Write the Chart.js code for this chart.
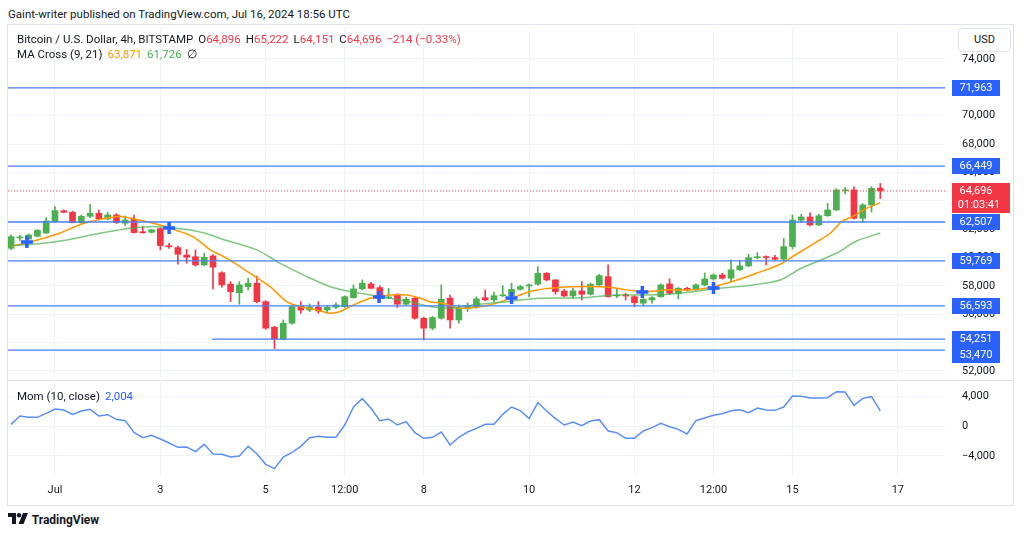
<!DOCTYPE html>
<html>
<head>
<meta charset="utf-8">
<script src="https://cdn.jsdelivr.net/npm/chart.js@4.4.1/dist/chart.umd.min.js"></script>
<style>
  body { margin: 0; background: #fff; font-family: Roboto, sans-serif; color: #131722; }
  #wrap { position: relative; width: 1024px; height: 536px; overflow: hidden; background: #fff; }
  .abs { position: absolute; white-space: nowrap; }
  #frame { position: absolute; left: 7px; top: 24px; width: 1007px; height: 482px; border: 1px solid #e0e3eb; box-sizing: border-box; }
  #sep { position: absolute; left: 8px; top: 380px; width: 1005px; height: 1px; background: #e0e3eb; }
  #mainChart { position: absolute; left: 0; top: 25px; }
  #momChart { position: absolute; left: 0; top: 381px; }
  .leg { font-size: 11.5px; line-height: 15px; color: #131722; }
  .leg span { margin-left: 5px; }
  .leg span i { font-style: normal; }
  .r { color: #f23645; }
  .o { color: #ff9800; }
  .g { color: #4caf50; }
  .b { color: #2962ff; }
  #usd { position: absolute; left: 958px; top: 28px; width: 53px; height: 24px; border: 1px solid #e0e3eb; border-radius: 4px; box-sizing: border-box; font-size: 11px; line-height: 22px; text-align: center; background: #fff; }
</style>
</head>
<body>
<div id="wrap">
  <div class="abs" style="left:8px;top:6px;font-size:11.5px;line-height:16px;color:#131722">Gaint-writer published on TradingView.com, Jul 16, 2024 18:56 UTC</div>
  <div id="frame"></div>
  <canvas id="mainChart" width="1024" height="355"></canvas>
  <div id="sep"></div>
  <canvas id="momChart" width="1024" height="124"></canvas>
  <div class="abs leg" style="left:17px;top:32px">Bitcoin / U.S. Dollar, 4h, BITSTAMP<span>O<i class="r">64,896</i></span><span>H<i class="r">65,222</i></span><span>L<i class="r">64,151</i></span><span>C<i class="r">64,696</i></span><span class="r">−214 (−0.33%)</span></div>
  <div class="abs leg" style="left:17px;top:47px">MA Cross (9, 21)<span class="o">63,871</span><span class="g">61,726</span><span>∅</span></div>
  <div class="abs leg" style="left:17px;top:389px">Mom (10, close)<span class="b">2,004</span></div>
  <div id="usd">USD</div>
  <div class="abs" style="left:8px;top:513px;font-size:12px;line-height:14px;font-weight:700;color:#131722">
    <svg width="21" height="12" viewBox="0 0 21 12" style="vertical-align:-1px"><path d="M0 0h8v11H4V4H0z" fill="#131722"/><circle cx="11" cy="2.2" r="2.2" fill="#131722"/><path d="M15 0h5l-4.5 11h-5z" fill="#131722"/></svg>
    TradingView</div>
</div>
<script>
// 4h candles, index 0 = Jun 30 04:00, index 99 = Jul 16 16:00
const opens = [60650, 61380, 61310, 61500, 61730, 62530, 63300, 63190, 62460, 62910,
  63120, 62720, 63000, 62420, 62700, 61800, 61780, 62040, 60800, 60700,
  60180, 60060, 59480, 60110, 58930, 58120, 57520, 57950, 58190, 56890,
  55090, 54240, 55370, 56590, 56300, 56500, 56300, 56500, 56540, 57170,
  57790, 58140, 57880, 57150, 57360, 56710, 57130, 55720, 55020, 55720,
  57130, 55600, 56420, 56540, 57170, 57010, 57300, 57310, 57760, 57990,
  58120, 58890, 58420, 57640, 57290, 57650, 57410, 58070, 58650, 57290,
  57330, 57240, 56780, 57010, 57240, 58140, 57480, 57830, 57720, 58070,
  58490, 58770, 58540, 59130, 59410, 59990, 60060, 60000, 59880, 60770,
  62630, 62860, 62300, 62950, 63360, 64700, 64770, 62770, 63710, 64896];
const highs = [61600, 61560, 61660, 61970, 62810, 63590, 63350, 63280, 63000, 63760,
  63360, 63190, 63100, 62930, 63000, 62180, 62000, 62100, 61010, 60800,
  60580, 60540, 60300, 60200, 59000, 58300, 58300, 58540, 58700, 56950,
  55150, 55600, 56590, 56890, 56730, 56890, 56600, 56800, 57300, 58070,
  58420, 58250, 58000, 57830, 57450, 57200, 57200, 55800, 55850, 58070,
  57360, 56660, 56800, 57240, 57720, 57570, 58020, 58190, 58050, 58150,
  59370, 58950, 58450, 57750, 57830, 58300, 58200, 58820, 59480, 57830,
  57480, 57300, 57100, 57240, 58150, 58490, 57900, 57900, 58150, 58910,
  58850, 58890, 59830, 59760, 60230, 60340, 60120, 60150, 61350, 63000,
  63050, 63160, 63050, 63830, 64850, 64950, 64980, 63800, 65000, 65222];
const lows = [60560, 61200, 61260, 61450, 61700, 62480, 63150, 62440, 62400, 62810,
  62650, 62650, 62400, 62250, 61710, 61710, 61720, 60540, 60650, 59530,
  59600, 59400, 59430, 57790, 57900, 56890, 56710, 57720, 56800, 54940,
  53560, 54190, 55300, 56070, 56190, 56070, 56070, 56400, 56480, 57130,
  57720, 57780, 56890, 57100, 56470, 56650, 55650, 54190, 54900, 55650,
  55020, 55370, 56190, 56420, 56950, 56890, 57250, 57240, 57700, 57240,
  58050, 58350, 57410, 57250, 57130, 57010, 57350, 58000, 57200, 57170,
  57010, 56540, 56600, 56780, 57200, 57400, 57080, 57650, 57700, 58000,
  58400, 58480, 58300, 59100, 59350, 59900, 59480, 59800, 59800, 60600,
  62460, 62230, 62250, 62900, 63300, 64480, 62700, 62490, 63210, 64151];
const closes = [61470, 61420, 61590, 61920, 62580, 63310, 63190, 62460, 62910, 63120,
  62720, 63000, 62460, 62650, 61760, 61750, 61950, 60840, 60760, 60230,
  60020, 59480, 60020, 59320, 58070, 57590, 58070, 58190, 56890, 55020,
  54240, 55370, 56540, 56300, 56500, 56230, 56500, 56660, 57240, 57790,
  58190, 57830, 57130, 57200, 56710, 57060, 55720, 55020, 55770, 57060,
  55600, 56420, 56610, 57080, 57010, 57310, 57360, 57760, 57950, 58070,
  58890, 58420, 57600, 57290, 57650, 57410, 58120, 58720, 57240, 57360,
  57290, 56820, 57060, 57170, 58070, 57480, 57830, 57720, 58070, 58490,
  58770, 58540, 59130, 59410, 59990, 60060, 60000, 59880, 60770, 62650,
  62860, 62300, 62950, 63360, 64770, 64750, 62770, 63710, 64880, 64696];

// MA Cross (9, 21)
const maFastX = [0, 1.8, 5.6, 8.4, 12.1, 13.5, 17.0, 18.0, 20.7, 22.7, 24.7, 27.5, 29.5, 31.4, 32.9, 34.8,
  36.3, 37.5, 38.6, 40.9, 43.2, 45.1, 46.6, 47.7, 49.2, 51.1, 54.5, 57.0, 59.1, 61.4, 65.1, 68.2,
  70.1, 71.9, 75.0, 77.7, 80.0, 82.7, 84.9, 87.6, 89.3, 91.8, 93.3, 94.6, 95.8, 97.5, 99];
const maFast = [60800, 61030, 61730, 62440, 62900, 62790, 62300, 62090, 61470, 60540, 59900, 58770, 57950, 56890, 56540, 56310,
  56070, 56190, 56540, 57130, 57360, 57360, 57130, 56890, 56780, 56420, 56660, 57130, 57600, 57830, 57950, 57900,
  57720, 57600, 57720, 57720, 57950, 58420, 58890, 59530, 60180, 61120, 61710, 62530, 62880, 63480, 63871];
const maSlowX = [0, 2.5, 6.4, 10.1, 12.4, 13.5, 16.2, 18.9, 21.9, 24.1, 28.0, 30.6, 33.7, 36.3, 38.6, 40.9, 43.2,
  45.4, 47.7, 50.0, 52.6, 56.5, 60.2, 65.1, 69.0, 71.9, 75.0, 80.7, 84.5, 87.6, 89.9, 94.1, 96.3, 99];
const maSlow = [60850, 60940, 61240, 61710, 61950, 62060, 62180, 62060, 61750, 61290, 60540, 59600, 58650, 57960, 57600, 57360, 57130,
  56890, 56540, 56420, 56660, 56890, 57130, 57170, 57360, 57360, 57410, 57830, 58070, 58420, 59210, 60340, 61170, 61726];
const crossX = [1.8, 18.0, 41.9, 57.0, 71.9, 80.0];
const crossY = [61100, 62085, 57220, 57150, 57575, 57855];

// Mom (10, close)
const momentum = [222, 1333, 1156, 1156, 1689, 2266, 2133, 1556, 2000, 2222,
  1333, 1511, 889, 711, -844, -1556, -1244, -1733, -2266, -2844,
  -2800, -3422, -2444, -3733, -3777, -4133, -4000, -2711, -3688, -5110,
  -5688, -4133, -3510, -2711, -1556, -1377, -1511, -1511, 133, 2533,
  3644, 2355, 711, 933, 133, 578, -889, -1644, -1511, -800,
  -2533, -1511, -800, -311, 222, 222, 1556, 2533, 2044, 978,
  3110, 2000, 978, 133, 533, 44, 667, 844, -667, -889,
  -1644, -1644, -667, -222, 356, -89, -444, -1067, 711, 1067,
  1422, 1644, 2044, 2178, 1778, 2400, 2133, 2089, 2533, 4000,
  3955, 3733, 3733, 3777, 4577, 4533, 2755, 3688, 3910, 2004];

// horizontal levels drawn on the chart
const levels = [71963, 66449, 62507, 59769, 56593, 54251, 53470];
const levelStart = [null, null, null, null, null, 22.9, null];
const lastPrice = 64696;
const countdown = '01:03:41';

// axes
const tickIdx = [5, 17, 29, 38, 47, 59, 71, 80, 89, 101];
const tickLabels = ['Jul', '3', '5', '12:00', '8', '10', '12', '12:00', '15', '17'];
const priceTicks = [52000, 54000, 56000, 58000, 60000, 62000, 64000, 66000, 68000, 70000, 72000, 74000];
const momTicks = [-4000, 0, 4000];

const colors = {
  green: '#4caf50',
  red: '#f23645',
  fast: '#ff9800',
  slow: 'rgba(76, 175, 80, 0.7)',
  level: '#4a7ff5',
  box: '#2962ff',
  mom: '#5b8ff5',
  text: '#131722',
  grid: '#f0f3fa'
};

const xMin = -0.35, xMax = 106.37;
const idx = closes.map((_, i) => i);
const candleColor = idx.map(i => closes[i] >= opens[i] ? colors.green : colors.red);
const fmt = v => (v < 0 ? '\u2212' : '') + Math.abs(v).toLocaleString('en-US');

Chart.defaults.font.family = "Roboto, sans-serif";
Chart.defaults.color = colors.text;

// keep Chart.js from insetting the plot area for tick labels
function noPadding(s) {
  s.paddingTop = 0; s.paddingBottom = 0; s.paddingLeft = 0; s.paddingRight = 0;
}

function xAxis(showLabels) {
  return {
    type: 'linear', min: xMin, max: xMax, offset: false,
    afterBuildTicks: s => { s.ticks = tickIdx.map(v => ({ value: v })); },
    afterFit: s => { s.height = showLabels ? 29 : 0; noPadding(s); },
    grid: { color: colors.grid, drawTicks: false, offset: false },
    border: { display: false },
    ticks: {
      display: showLabels, padding: 8, autoSkip: false, maxRotation: 0,
      font: { size: 11 }, color: colors.text,
      callback: v => tickLabels[tickIdx.indexOf(v)]
    }
  };
}

function yAxis(min, max, list) {
  return {
    position: 'right', min: min, max: max,
    afterBuildTicks: s => { s.ticks = list.map(v => ({ value: v })); },
    afterFit: s => { s.width = 79; noPadding(s); },
    grid: { color: colors.grid, drawTicks: false },
    border: { display: false },
    ticks: { padding: 17, autoSkip: false, font: { size: 11 }, color: colors.text, callback: fmt }
  };
}

// price tags on the right scale
const priceTags = {
  id: 'priceTags',
  afterDraw(chart) {
    const ctx = chart.ctx, y = chart.scales.y;
    ctx.save();
    ctx.font = '11px Roboto, sans-serif';
    ctx.textAlign = 'center';
    ctx.textBaseline = 'middle';
    let prevBottom = -100;
    levels.slice().sort((a, b) => b - a).forEach(v => {
      let top = Math.round(y.getPixelForValue(v)) - 8;
      if (top < prevBottom) top = prevBottom;
      ctx.fillStyle = colors.box;
      ctx.fillRect(952, top, 48, 16);
      ctx.fillStyle = '#fff';
      ctx.fillText(fmt(v), 976, top + 8.5);
      prevBottom = top + 16;
    });
    const py = Math.round(y.getPixelForValue(lastPrice));
    ctx.fillStyle = colors.red;
    ctx.fillRect(952, py - 8, 58, 30);
    ctx.fillStyle = '#fff';
    ctx.fillText(fmt(lastPrice), 976, py + 0.5);
    ctx.fillText(countdown, 979, py + 14);
    ctx.restore();
  }
};

new Chart(document.getElementById('mainChart'), {
  type: 'bar',
  data: {
    datasets: [
      ...levels.map((v, i) => ({
        type: 'line',
        data: [{ x: levelStart[i] === null ? xMin : levelStart[i], y: v }, { x: xMax, y: v }],
        borderColor: colors.level, borderWidth: 1.3, pointRadius: 0, order: 2
      })),
      {
        type: 'line',
        data: [{ x: xMin, y: lastPrice }, { x: xMax, y: lastPrice }],
        borderColor: colors.red, borderWidth: 1, borderDash: [1, 2], pointRadius: 0, order: 2
      },
      {
        type: 'line',
        data: maSlowX.map((x, i) => ({ x: x, y: maSlow[i] })),
        borderColor: colors.slow, borderWidth: 1.5, pointRadius: 0, tension: 0.3, order: 3
      },
      {
        type: 'line',
        data: maFastX.map((x, i) => ({ x: x, y: maFast[i] })),
        borderColor: colors.fast, borderWidth: 1.5, pointRadius: 0, tension: 0.3, order: 3
      },
      {
        type: 'bar',
        data: idx.map(i => ({ x: i, y: [lows[i], highs[i]] })),
        backgroundColor: candleColor, barThickness: 1, grouped: false, order: 5
      },
      {
        type: 'bar',
        data: idx.map(i => ({ x: i, y: [opens[i], closes[i]] })),
        backgroundColor: candleColor, barThickness: 6, grouped: false, minBarLength: 1, order: 4
      },
      {
        type: 'line',
        data: crossX.map((x, i) => ({ x: x, y: crossY[i] })),
        showLine: false, pointStyle: 'cross', pointRadius: 6, pointBorderWidth: 3.5,
        pointBorderColor: colors.box, order: 1
      }
    ]
  },
  options: {
    responsive: false,
    animation: false,
    layout: { autoPadding: false, padding: { left: 8, top: 2, bottom: 2, right: 0 } },
    plugins: { legend: { display: false }, tooltip: { enabled: false } },
    scales: {
      x: xAxis(false),
      y: yAxis(51506, 76256, priceTicks)
    }
  },
  plugins: [priceTags]
});

new Chart(document.getElementById('momChart'), {
  type: 'line',
  data: {
    datasets: [{
      data: idx.map(i => ({ x: i, y: momentum[i] })),
      borderColor: colors.mom, borderWidth: 1.5, pointRadius: 0
    }]
  },
  options: {
    responsive: false,
    animation: false,
    layout: { autoPadding: false, padding: { left: 8, top: 1, bottom: 0, right: 0 } },
    plugins: { legend: { display: false }, tooltip: { enabled: false } },
    scales: {
      x: xAxis(true),
      y: yAxis(-6667, 5867, momTicks)
    }
  }
});
</script>
</body>
</html>
